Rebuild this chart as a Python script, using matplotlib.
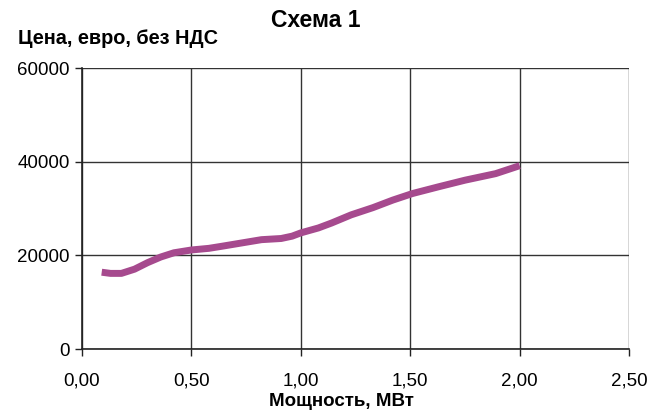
import matplotlib
matplotlib.use("Agg")
import matplotlib.pyplot as plt

power_mw = [0.09, 0.13, 0.18, 0.24, 0.30, 0.36, 0.42, 0.50, 0.58, 0.64, 0.73, 0.82,
            0.91, 0.96, 1.00, 1.08, 1.14, 1.23, 1.33, 1.42, 1.51, 1.63, 1.75, 1.89, 2.00]
price_eur = [16400, 16150, 16150, 17050, 18450, 19650, 20550, 21150, 21500, 21950, 22650, 23350,
             23600, 24100, 24800, 25850, 26900, 28650, 30200, 31800, 33200, 34650, 36050, 37450, 39150]
x_ticks = [0.0, 0.5, 1.0, 1.5, 2.0, 2.5]
y_ticks = [0, 20000, 40000, 60000]

plt.rcParams['font.family'] = ['Liberation Sans', 'DejaVu Sans']

fig = plt.figure(figsize=(6.54, 4.16), dpi=100)
ax = fig.add_axes([0.1254, 0.161, 0.8366, 0.6755])

ax.plot(power_mw, price_eur, color='#A64A8E', lw=5, solid_capstyle='butt',
        solid_joinstyle='round', zorder=3)

ax.set_xlim(0, 2.5)
ax.set_ylim(0, 60000)
ax.set_xticks(x_ticks)
ax.set_yticks(y_ticks)
ax.set_xticklabels([f"{v:.2f}".replace('.', ',') for v in x_ticks], fontsize=13.5)
ax.set_yticklabels([str(v) for v in y_ticks], fontsize=13.5)
ax.tick_params(axis='both', direction='out', length=5, width=1, color='#222222', pad=4)
ax.tick_params(axis='x', pad=12)

ax.grid(True, color='#333333', lw=1)
for s in ['top', 'right']:
    ax.spines[s].set_visible(False)
for s in ['left', 'bottom']:
    ax.spines[s].set_color('#222222')
    ax.spines[s].set_linewidth(1.2)

fig.text(0.483, 0.950, 'Схема 1', ha='center', va='center', fontsize=16.5, fontweight='bold')
fig.text(0.027, 0.908, 'Цена, евро, без НДС', ha='left', va='center', fontsize=14.3, fontweight='bold')
fig.text(0.522, 0.036, 'Мощность, МВт', ha='center', va='center', fontsize=13.5, fontweight='bold')

fig.savefig('out.png', dpi=100)
